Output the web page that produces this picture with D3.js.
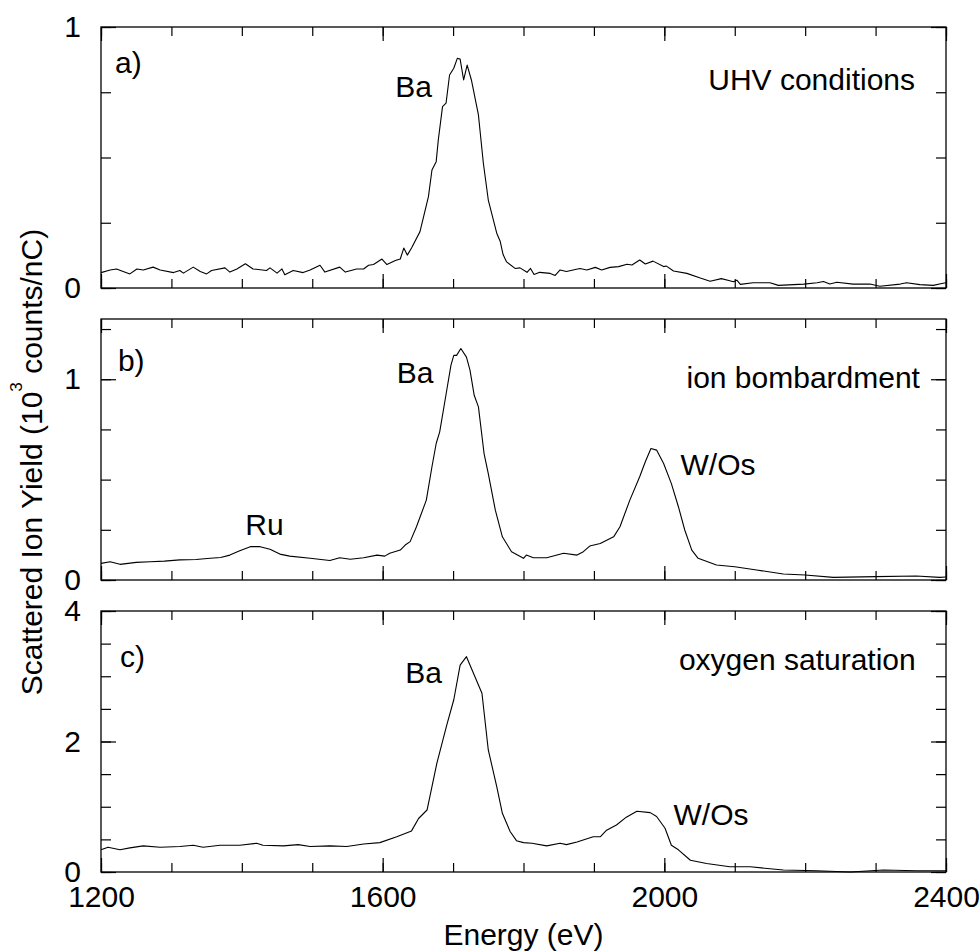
<!DOCTYPE html>
<html>
<head>
<meta charset="utf-8">
<script src="https://cdn.jsdelivr.net/npm/d3@7"></script>
<style>
  body { margin: 0; background: #fff; }
  svg { display: block; font-family: "Liberation Sans", Arial, Helvetica, sans-serif; }
</style>
</head>
<body>
<svg id="chart" width="980" height="951"></svg>
<script>
// Data: energy (eV) and yield (10^3 counts/nC)
var energyA = [1200,1213,1222,1241,1251,1260,1274,1284,1303,1312,1317,1331,1341,1350,1357,1376,1383,1393,1405,1416,
  1435,1440,1450,1457,1461,1473,1487,1497,1511,1518,1539,1547,1563,1573,1580,1587,1599,1606,1618,1625,
  1630,1635,1641,1653,1665,1670,1676,1679,1685,1690,1695,1701,1706,1710,1715,1720,1726,1736,1743,1750,
  1762,1767,1771,1776,1788,1795,1805,1810,1815,1823,1838,1845,1852,1861,1880,1890,1902,1911,1923,1935,
  1947,1954,1965,1973,1984,1999,2003,2013,2032,2051,2065,2081,2093,2098,2103,2108,2126,2150,2162,2198,
  2217,2226,2235,2245,2268,2292,2306,2335,2344,2363,2382,2394,2400];
var yieldA = [.059,.069,.073,.054,.073,.069,.080,.069,.059,.067,.057,.080,.063,.054,.067,.077,.061,.073,.093,.073,
  .067,.077,.057,.073,.051,.067,.059,.069,.087,.061,.080,.061,.073,.073,.087,.090,.111,.090,.105,.111,
  .153,.126,.153,.216,.350,.452,.484,.567,.695,.708,.816,.842,.880,.877,.797,.854,.797,.663,.478,.337,
  .210,.178,.128,.100,.075,.077,.060,.075,.052,.060,.056,.048,.069,.063,.075,.069,.079,.069,.079,.082,
  .091,.088,.107,.092,.103,.082,.084,.065,.056,.038,.026,.036,.028,.024,.030,.014,.020,.020,.010,.015,
  .020,.025,.015,.022,.015,.015,.007,.015,.020,.013,.010,.017,.020];

var energyB = [1200,1213,1227,1250,1270,1290,1312,1335,1355,1370,1383,1397,1412,1426,1440,1454,1468,1497,1525,1539,
  1554,1573,1592,1603,1610,1625,1632,1639,1648,1662,1670,1676,1681,1691,1697,1701,1705,1711,1719,1724,
  1730,1736,1744,1750,1760,1770,1783,1800,1804,1814,1833,1857,1876,1885,1894,1909,1928,1937,1951,1965,
  1973,1981,1989,1999,2010,2020,2029,2039,2048,2074,2100,2131,2169,2200,2240,2300,2358,2391,2400];
var yieldB = [.083,.091,.078,.088,.091,.094,.100,.102,.108,.112,.124,.146,.166,.166,.153,.129,.119,.108,.097,.111,
  .103,.111,.124,.119,.133,.149,.174,.191,.265,.398,.564,.680,.738,.945,1.07,1.119,1.119,1.153,1.110,1.045,
  .920,.862,.630,.530,.348,.215,.141,.108,.124,.111,.111,.133,.124,.141,.169,.182,.215,.265,.398,.514,
  .589,.655,.647,.580,.480,.365,.249,.149,.108,.075,.066,.050,.030,.025,.013,.017,.020,.013,.015];

var energyC = [1200,1210,1227,1241,1260,1284,1312,1331,1345,1369,1397,1421,1430,1459,1480,1497,1525,1549,1573,1596,
  1620,1641,1651,1663,1677,1691,1701,1710,1719,1741,1750,1762,1770,1781,1790,1800,1812,1833,1852,1861,
  1876,1899,1909,1918,1932,1946,1961,1980,1989,2001,2010,2020,2037,2060,2093,2122,2169,2216,2264,2311,
  2358,2396,2400];
var yieldC = [.34,.38,.34,.37,.40,.38,.39,.41,.38,.41,.41,.44,.41,.40,.42,.39,.40,.39,.43,.45,
  .54,.63,.82,.95,1.67,2.25,2.64,3.17,3.30,2.74,1.87,1.31,.90,.62,.48,.45,.44,.40,.44,.42,
  .46,.54,.54,.64,.72,.84,.93,.91,.85,.67,.41,.34,.18,.13,.08,.08,.03,.02,.00,.03,
  .02,.02,.02];

var xMinorTicks = d3.range(1200, 2401, 100);
var xMajorTicks = [1200, 1600, 2000, 2400];

var panelLetters = ["a)", "b)", "c)"];
var panelTitles = ["UHV conditions", "ion bombardment", "oxygen saturation"];
var yMax = [1, 1.3, 4];
var yMinorStep = [0.25, 0.25, 0.5];
var yLabelTicks = [[0, 1], [0, 1], [0, 2, 4]];

// annotation anchors in data units: [energy, yield]
var letterPos = [[1220, .824], [1224, 1.04], [1227, 3.14]];
var titlePos = [[2356, .759], [2363, .955], [2357, 3.10]];
var peakLabels = [
  [{t: "Ba", e: 1618, v: .732}],
  [{t: "Ru", e: 1405, v: .224}, {t: "Ba", e: 1620, v: .98}, {t: "W/Os", e: 2023, v: .522}],
  [{t: "Ba", e: 1632, v: 2.90}, {t: "W/Os", e: 2013, v: .72}]
];

var series = [
  energyA.map(function(e, i){ return [e, yieldA[i]]; }),
  energyB.map(function(e, i){ return [e, yieldB[i]]; }),
  energyC.map(function(e, i){ return [e, yieldC[i]]; })
];

var svg = d3.select("#chart");
var left = 101, right = 946;
var tops = [27, 319, 611], ph = 261;
var fontSize = 30;

var x = d3.scaleLinear().domain([1200, 2400]).range([left, right]);

series.forEach(function(data, p){
  var top = tops[p], bottom = top + ph;
  var y = d3.scaleLinear().domain([0, yMax[p]]).range([bottom, top]);
  var g = svg.append("g");
  var minorY = d3.range(0, yMax[p] + 1e-9, yMinorStep[p]);

  // ticks, all pointing inward
  function addAxis(axis, tx, ty){
    var a = g.append("g").attr("transform", "translate(" + tx + "," + ty + ")").call(axis);
    a.select(".domain").remove();
    a.selectAll("line").attr("stroke", "#000").attr("stroke-width", 1.2);
    a.selectAll("text").attr("font-size", fontSize).attr("font-family", "Liberation Sans, Arial, sans-serif").attr("fill", "#000");
    return a;
  }
  addAxis(d3.axisBottom(x).tickValues(xMinorTicks).tickSize(-9).tickFormat(""), 0, bottom);
  addAxis(d3.axisTop(x).tickValues(xMinorTicks).tickSize(-9).tickFormat(""), 0, top);
  addAxis(d3.axisTop(x).tickValues(xMajorTicks).tickSize(-14).tickFormat(""), 0, top);
  addAxis(d3.axisBottom(x).tickValues(xMajorTicks).tickSize(-14).tickPadding(14)
    .tickFormat(p == 2 ? d3.format("d") : ""), 0, bottom);

  addAxis(d3.axisLeft(y).tickValues(minorY).tickSize(-10).tickFormat(""), left, 0);
  addAxis(d3.axisRight(y).tickValues(minorY).tickSize(-10).tickFormat(""), right, 0);
  addAxis(d3.axisRight(y).tickValues(yLabelTicks[p]).tickSize(-15).tickFormat(""), right, 0);
  addAxis(d3.axisLeft(y).tickValues(yLabelTicks[p]).tickSize(-15).tickPadding(20)
    .tickFormat(d3.format("d")), left, 0);

  // frame
  g.append("rect")
    .attr("x", left).attr("y", top)
    .attr("width", right - left).attr("height", ph)
    .attr("fill", "none").attr("stroke", "#000").attr("stroke-width", 1.3);

  // spectrum
  var line = d3.line()
    .x(function(d){ return x(d[0]); })
    .y(function(d){ return y(d[1]); });
  g.append("path")
    .datum(data)
    .attr("d", line)
    .attr("fill", "none")
    .attr("stroke", "#000")
    .attr("stroke-width", 1.1)
    .attr("stroke-linejoin", "round");

  // labels
  g.append("text")
    .attr("x", x(letterPos[p][0])).attr("y", y(letterPos[p][1]))
    .attr("font-size", fontSize).text(panelLetters[p]);
  g.append("text")
    .attr("x", x(titlePos[p][0])).attr("y", y(titlePos[p][1]))
    .attr("text-anchor", "end")
    .attr("font-size", fontSize).text(panelTitles[p]);
  g.selectAll(".peak")
    .data(peakLabels[p])
    .enter().append("text")
    .attr("class", "peak")
    .attr("x", function(d){ return x(d.e); })
    .attr("y", function(d){ return y(d.v); })
    .attr("font-size", fontSize)
    .text(function(d){ return d.t; });
});

// axis titles
svg.append("text")
  .attr("x", x(1800)).attr("y", 945)
  .attr("text-anchor", "middle")
  .attr("font-size", fontSize)
  .text("Energy (eV)");

var yTitle = svg.append("text")
  .attr("transform", "translate(42,462) rotate(-90)")
  .attr("text-anchor", "middle")
  .attr("font-size", fontSize);
yTitle.append("tspan").text("Scattered Ion Yield (10");
yTitle.append("tspan").attr("dy", -20).attr("font-size", 17).text("3");
yTitle.append("tspan").attr("dy", 20).text(" counts/nC)");
</script>
</body>
</html>
